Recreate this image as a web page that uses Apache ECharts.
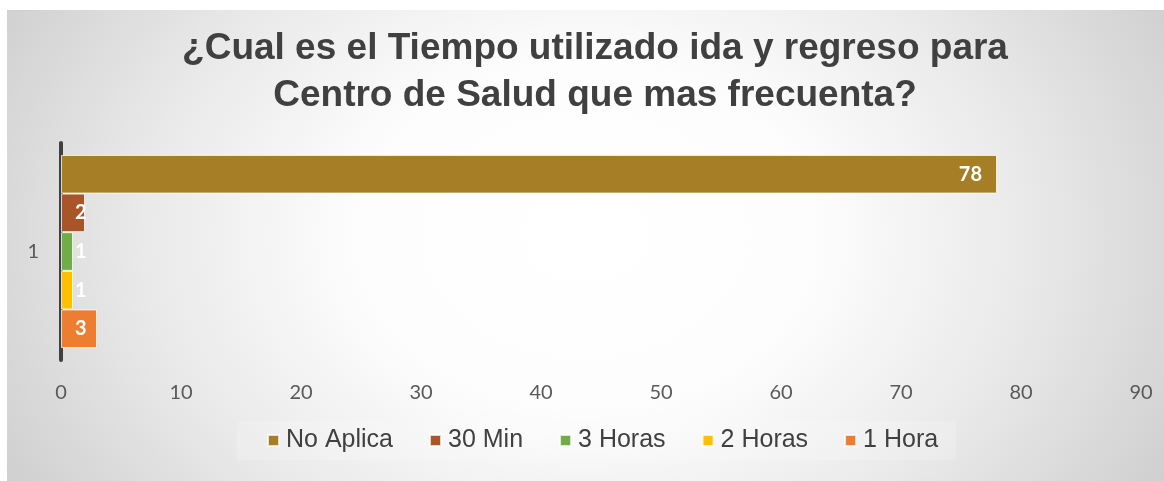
<!DOCTYPE html>
<html>
<head>
<meta charset="utf-8">
<script src="https://cdn.jsdelivr.net/npm/echarts@6/dist/echarts.min.js"></script>
<style>
  html, body { margin: 0; padding: 0; background: #ffffff; width: 1164px; height: 481px; overflow: hidden; }
  #chart {
    position: absolute; left: 7px; top: 10px; width: 1157px; height: 471px;
    background: radial-gradient(ellipse 62% 115% at 50% 48%, #ffffff 0%, #fdfdfd 32%, #e9e9e9 62%, #c9c9c9 100%);
  }
</style>
</head>
<body>
<div id="chart"></div>
<script>
// Chart content
const titleLines = ['¿Cual es el Tiempo utilizado ida y regreso para', 'Centro de Salud que mas frecuenta?'];
const categories = ['1'];
const seriesNames = ['No Aplica', '30 Min', '3 Horas', '2 Horas', '1 Hora'];
const seriesValues = [[78], [2], [1], [1], [3]];
const xTickValues = [0, 10, 20, 30, 40, 50, 60, 70, 80, 90];

// Styling
const seriesColors = ['#A57E26', '#A8552A', '#70AD47', '#FFC000', '#ED7D31'];
const labelFont = 'Lato, "Open Sans", sans-serif';
const textFont = '"Liberation Sans", Arial, sans-serif';

const chart = echarts.init(document.getElementById('chart'), null, { renderer: 'canvas' });

const series = seriesNames.map((name, i) => ({
  name: name,
  type: 'bar',
  data: seriesValues[i],
  barGap: '0%',
  barCategoryGap: '11%',
  itemStyle: { color: seriesColors[i], borderColor: 'rgba(255,255,255,0.75)', borderWidth: 1 },
  label: {
    show: true,
    position: seriesValues[i][0] > 10 ? 'insideRight' : 'insideLeft',
    distance: seriesValues[i][0] > 10 ? 15 : 14,
    color: '#ffffff',
    fontFamily: labelFont,
    fontWeight: 'bold',
    fontSize: 20
  }
}));

chart.setOption({
  backgroundColor: 'transparent',
  animation: false,
  title: {
    text: titleLines.join('\n'),
    left: 588,
    top: 15,
    padding: 0,
    textAlign: 'center',
    textStyle: { fontFamily: textFont, fontSize: 37, fontWeight: 'bold', color: '#404040', lineHeight: 47 }
  },
  legend: {
    data: seriesNames,
    left: 230,
    top: 411,
    padding: [7, 18, 7, 30],
    backgroundColor: 'rgba(255,255,255,0.18)',
    itemWidth: 11,
    itemHeight: 11,
    itemGap: 36,
    icon: 'rect',
    textStyle: { fontFamily: textFont, fontSize: 25, color: '#404040', padding: [0, 0, 0, 2] }
  },
  grid: { left: 54, right: 23, top: 133, bottom: 121 },
  xAxis: {
    type: 'value',
    min: xTickValues[0],
    max: xTickValues[xTickValues.length - 1],
    interval: xTickValues[1] - xTickValues[0],
    axisLine: { show: false },
    axisTick: { show: false },
    splitLine: { show: false },
    axisLabel: { color: '#595959', fontFamily: labelFont, fontSize: 20, margin: 23 }
  },
  yAxis: {
    type: 'category',
    data: categories,
    axisLine: { show: true, lineStyle: { color: '#404040', width: 4 } },
    axisTick: { show: false },
    axisLabel: { color: '#595959', fontFamily: labelFont, fontSize: 20, margin: 22 }
  },
  series: series
});
</script>
</body>
</html>
